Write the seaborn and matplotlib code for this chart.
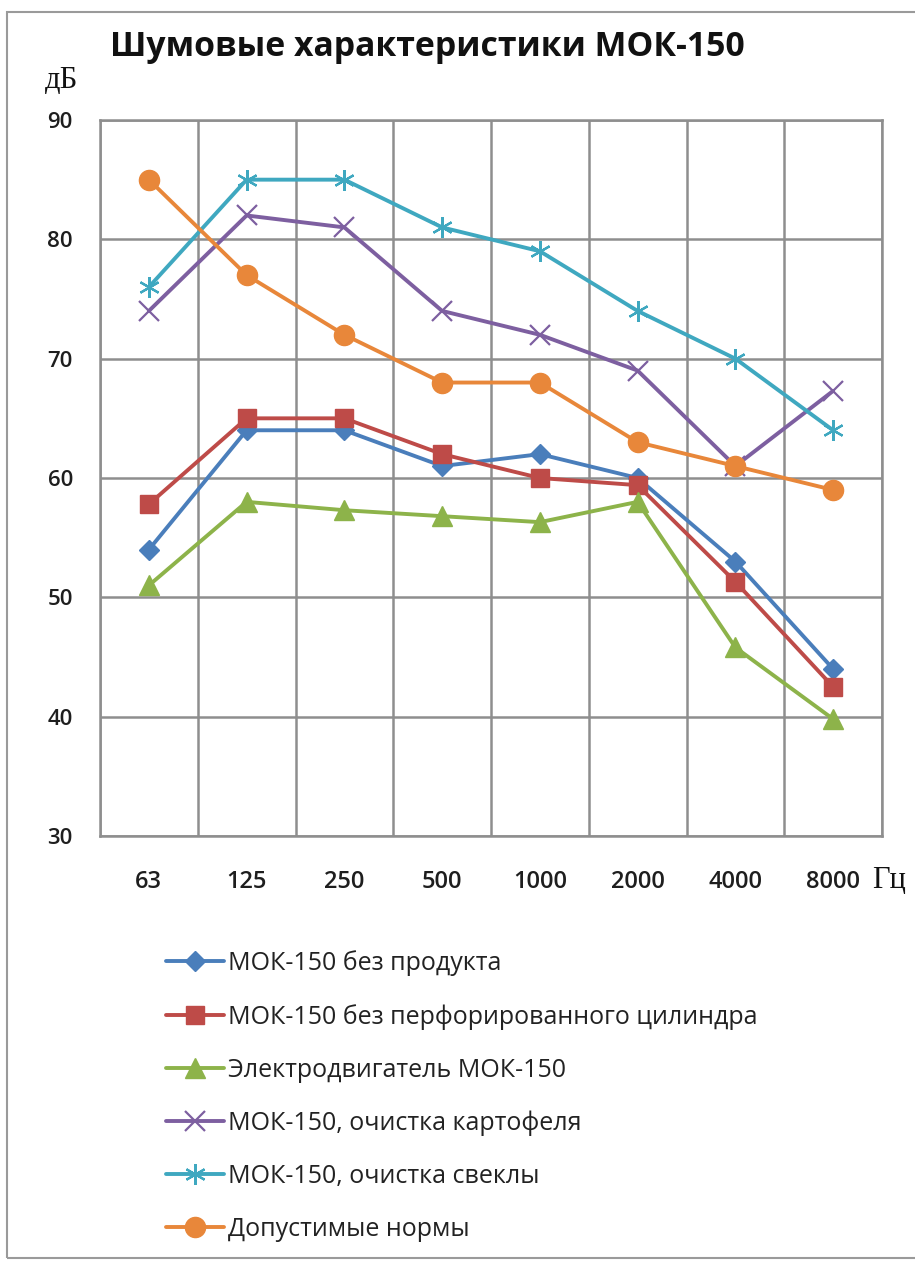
import numpy as np
import pandas as pd
import matplotlib
matplotlib.use("Agg")
import matplotlib.pyplot as plt
import seaborn as sns
from matplotlib.patches import Rectangle

sns.set_theme(style="white")
plt.rcParams['font.family'] = ['Open Sans', 'DejaVu Sans']

freqs = ["63", "125", "250", "500", "1000", "2000", "4000", "8000"]
no_product = [54, 64, 64, 61, 62, 60, 53, 44]
no_cylinder = [57.8, 65, 65, 62, 60, 59.4, 51.3, 42.5]
motor = [51, 58, 57.3, 56.8, 56.3, 58, 45.8, 39.8]
potato = [74, 82, 81, 74, 72, 69, 61, 67.3]
beet = [76, 85, 85, 81, 79, 74, 70, 64]
norms = [85, 77, 72, 68, 68, 63, 61, 59]

series_names = [
    "МОК-150 без продукта",
    "МОК-150 без перфорированного цилиндра",
    "Электродвигатель МОК-150",
    "МОК-150, очистка картофеля",
    "МОК-150, очистка свеклы",
    "Допустимые нормы",
]
series_values = [no_product, no_cylinder, motor, potato, beet, norms]
colors = ["#4A7EBB", "#BE4B48", "#8DB34A", "#7D5FA0", "#3FA8C0", "#E8873A"]
markers = ["D", "s", "^", "x", (6, 2, 0), "o"]
msizes = [10, 13.5, 15, 15, 15, 14.5]

fig = plt.figure(figsize=(9.15, 12.61), dpi=100)
ax = fig.add_axes([100/915, 1-836/1261, (882-100)/915, (836-120)/1261])

xpos = np.arange(len(freqs))
for name, vals, c, m, ms in zip(series_names, series_values, colors, markers, msizes):
    is_line_marker = (m == "x") or isinstance(m, tuple)
    sns.lineplot(x=xpos, y=vals, ax=ax, color=c, linewidth=2.8, marker=m,
                 markersize=ms, markeredgewidth=1.6 if is_line_marker else 1.0,
                 markeredgecolor=c, markerfacecolor=c, label=name, legend=False)

ax.set_xlim(-0.5, 7.5)
ax.set_ylim(30, 90)
ax.set_yticks([30, 40, 50, 60, 70, 80, 90])
ax.set_yticklabels(["30", "40", "50", "60", "70", "80", "90"], fontsize=16, fontweight="semibold", color="#1e1e1e")
ax.set_xticks(xpos)
ax.set_xticklabels(freqs, fontsize=17, fontweight="semibold", color="#1e1e1e")
ax.set_xticks(np.arange(-0.5, 8, 1), minor=True)
ax.tick_params(axis="x", which="major", length=0, pad=24.5)
ax.tick_params(axis="y", which="major", length=0, pad=19.5)
ax.tick_params(axis="x", which="minor", length=0)
ax.grid(False)
ax.grid(True, axis="y", which="major", color="#8e8e8e", linewidth=1.8)
ax.grid(True, axis="x", which="minor", color="#8e8e8e", linewidth=1.8)
ax.set_axisbelow(True)
for s in ax.spines.values():
    s.set_color("#8e8e8e")
    s.set_linewidth(1.8)
ax.set_xlabel("")
ax.set_ylabel("")

fig.text(110/915, 1-47/1261, "Шумовые характеристики МОК-150", fontsize=24.3, fontweight="bold",
         va="center", ha="left", color="#111111")
fig.text(45/915, 1-81/1261, "дБ", fontsize=22, family=["Liberation Serif"], va="center", ha="left", color="#111111")
fig.text(872/915, 1-880/1261, "Гц", fontsize=22, family=["Liberation Serif"], va="center", ha="left", color="#111111")

handles, labels = ax.get_legend_handles_labels()
leg = fig.legend(handles, labels, loc="upper left", bbox_to_anchor=(166/915, 1-950/1261),
                 frameon=False, fontsize=18, labelspacing=1.12, handlelength=2.3,
                 handletextpad=0.2, borderaxespad=0, borderpad=0)
for t in leg.get_texts():
    t.set_color("#222222")

fig.patches.append(Rectangle((7/915, 0.002), 1.0, 1-12/1261-0.002, transform=fig.transFigure,
                             fill=False, edgecolor="#9a9a9a", linewidth=1.5))

fig.savefig("out.png", dpi=100)
